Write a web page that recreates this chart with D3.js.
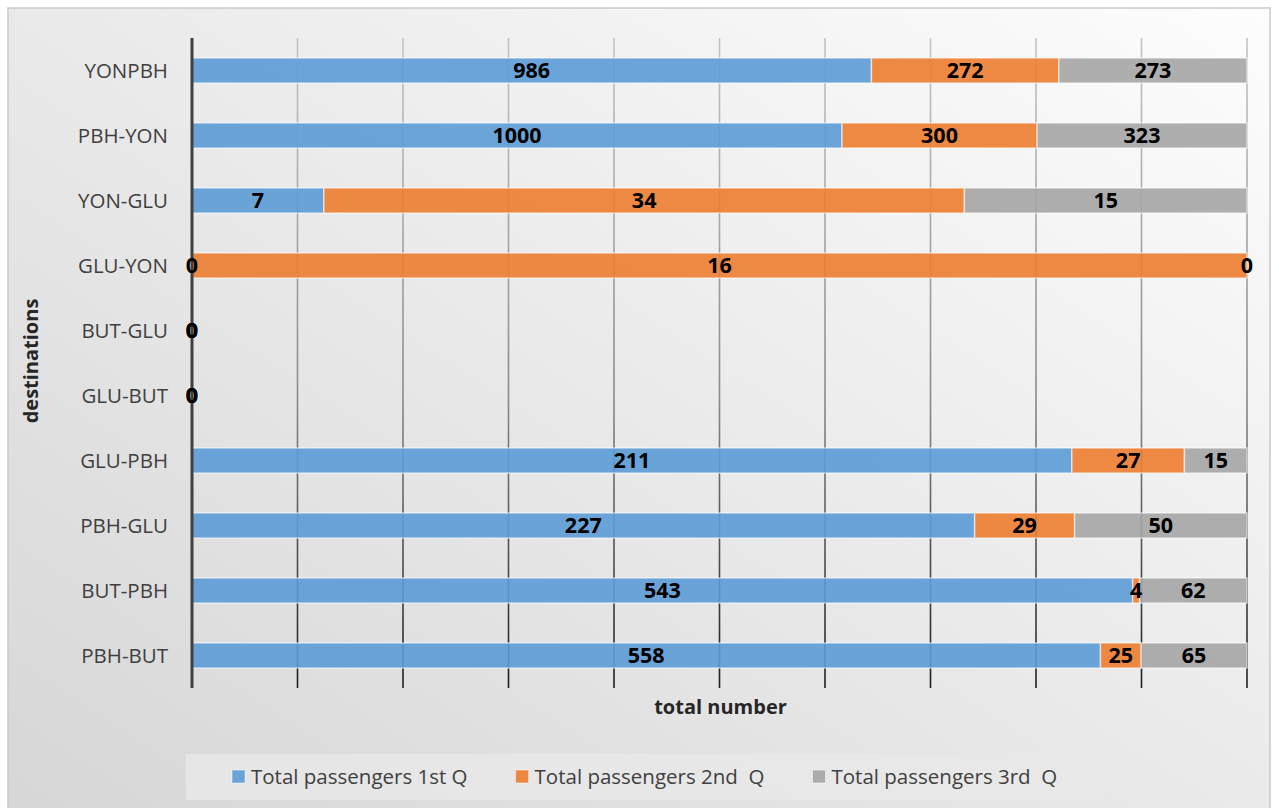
<!DOCTYPE html>
<html>
<head>
<meta charset="utf-8">
<title>Passengers by destination</title>
<script src="https://d3js.org/d3.v7.min.js"></script>
<style>
  body { margin: 0; background: #fff; }
  svg { display: block; font-family: "Open Sans", "Noto Sans", sans-serif; }
  .cat text { font-size: 20.5px; fill: #404040; }
  .lbl { font-size: 21.5px; font-weight: bold; fill: #000; }
  .title { font-size: 20px; font-weight: bold; fill: #262626; }
  .leg text { font-size: 20.5px; fill: #404040; white-space: pre; }
</style>
</head>
<body>
<svg id="chart" width="1279" height="808"></svg>
<script>
// data, top to bottom as in the picture
let destinations = ["YONPBH", "PBH-YON", "YON-GLU", "GLU-YON", "BUT-GLU",
                    "GLU-BUT", "GLU-PBH", "PBH-GLU", "BUT-PBH", "PBH-BUT"];
let q1 = [986, 1000, 7, 0, 0, 0, 211, 227, 543, 558];
let q2 = [272, 300, 34, 16, 0, 0, 27, 29, 4, 25];
let q3 = [273, 323, 15, 0, 0, 0, 15, 50, 62, 65];
let seriesNames = ["Total passengers 1st Q", "Total passengers 2nd  Q", "Total passengers 3rd  Q"];
let seriesColors = ["#5B9BD5", "#ED7D31", "#A5A5A5"];
let gridTicks = [0, 0.1, 0.2, 0.3, 0.4, 0.5, 0.6, 0.7, 0.8, 0.9, 1];

let svg = d3.select("#chart");
let plotL = 192, plotR = 1247, plotT = 38, plotB = 688;

let defs = svg.append("defs");
let bg = defs.append("linearGradient").attr("id", "bgGrad")
    .attr("x1", "100%").attr("y1", "0%").attr("x2", "0%").attr("y2", "100%");
bg.append("stop").attr("offset", "0%").attr("stop-color", "#fdfdfd");
bg.append("stop").attr("offset", "100%").attr("stop-color", "#d6d6d6");

let gg = defs.append("linearGradient").attr("id", "gridGrad")
    .attr("gradientUnits", "userSpaceOnUse")
    .attr("x1", 0).attr("y1", plotT).attr("x2", 0).attr("y2", plotB);
gg.append("stop").attr("offset", "0%").attr("stop-color", "#c4c4c4");
gg.append("stop").attr("offset", "55%").attr("stop-color", "#8a8a8a");
gg.append("stop").attr("offset", "100%").attr("stop-color", "#1e1e1e");

// chart area
svg.append("rect")
    .attr("x", 8).attr("y", 8).attr("width", 1262).attr("height", 820)
    .attr("fill", "url(#bgGrad)").attr("stroke", "#c9c9c9").attr("stroke-width", 1.5);

let x = d3.scaleLinear().domain([0, 1]).range([plotL, plotR]);
let y = d3.scaleBand().domain(destinations).range([plotT, plotB])
    .paddingInner(0.615).paddingOuter(0.3075);

// stacked shares per row
let rows = destinations.map((d, i) => ({ name: d, q1: q1[i], q2: q2[i], q3: q3[i] }));
let keys = ["q1", "q2", "q3"];
let stacked = d3.stack().keys(keys)
    .value((r, k) => {
        let t = r.q1 + r.q2 + r.q3;
        return t === 0 ? 0 : r[k] / t;
    })(rows);

// gridlines
svg.append("g").selectAll("line").data(gridTicks).join("line")
    .attr("x1", d => x(d)).attr("x2", d => x(d))
    .attr("y1", plotT).attr("y2", plotB)
    .attr("stroke", "url(#gridGrad)").attr("stroke-width", 1.6);

// bars
let layers = svg.append("g").selectAll("g").data(stacked).join("g")
    .attr("fill", (d, i) => seriesColors[i]);

layers.selectAll("rect").data(d => d).join("rect")
    .attr("x", d => x(d[0]))
    .attr("y", d => y(d.data.name))
    .attr("width", d => x(d[1]) - x(d[0]))
    .attr("height", y.bandwidth())
    .attr("fill-opacity", 0.9)
    .attr("stroke", "#ffffff").attr("stroke-opacity", 0.55).attr("stroke-width", 1.5);

// axis line
svg.append("line")
    .attr("x1", plotL).attr("x2", plotL).attr("y1", plotT).attr("y2", plotB)
    .attr("stroke", "#404040").attr("stroke-width", 3);

// value labels, drawn above every bar
let labelGroup = svg.append("g");
stacked.forEach((layer, i) => {
    labelGroup.append("g").selectAll("text").data(layer).join("text")
        .attr("class", "lbl")
        .attr("x", d => x((d[0] + d[1]) / 2))
        .attr("y", d => y(d.data.name) + y.bandwidth() / 2)
        .attr("dy", "0.36em")
        .attr("text-anchor", "middle")
        .text(d => d.data[keys[i]]);
});

// category axis
let yAxis = svg.append("g").attr("class", "cat")
    .attr("transform", `translate(${plotL - 24},0)`)
    .call(d3.axisLeft(y).tickSize(0).tickPadding(0));
yAxis.attr("font-family", null).attr("font-size", null);
yAxis.select(".domain").remove();
yAxis.selectAll("text").attr("dy", "0.35em");

// axis titles
svg.append("text").attr("class", "title")
    .attr("transform", "translate(38,361) rotate(-90)")
    .attr("text-anchor", "middle").text("destinations");
svg.append("text").attr("class", "title")
    .attr("x", (plotL + plotR) / 2 + 1).attr("y", 714)
    .attr("text-anchor", "middle").text("total number");

// legend
svg.append("rect")
    .attr("x", 186).attr("y", 754).attr("width", 914).attr("height", 46)
    .attr("fill", "#e8e8e8").attr("fill-opacity", 0.8);
let leg = svg.append("g").attr("class", "leg");
let lx = 232;
seriesNames.forEach((name, i) => {
    let item = leg.append("g").attr("transform", `translate(${lx},777)`);
    item.append("rect").attr("x", 0).attr("y", -7).attr("width", 13).attr("height", 13)
        .attr("fill", seriesColors[i]).attr("fill-opacity", 0.9)
        .attr("stroke", "#fff").attr("stroke-opacity", 0.5);
    let t = item.append("text").attr("x", 19).attr("dy", "0.35em").text(name);
    lx += 19 + t.node().getComputedTextLength() + 48;
});
</script>
</body>
</html>
